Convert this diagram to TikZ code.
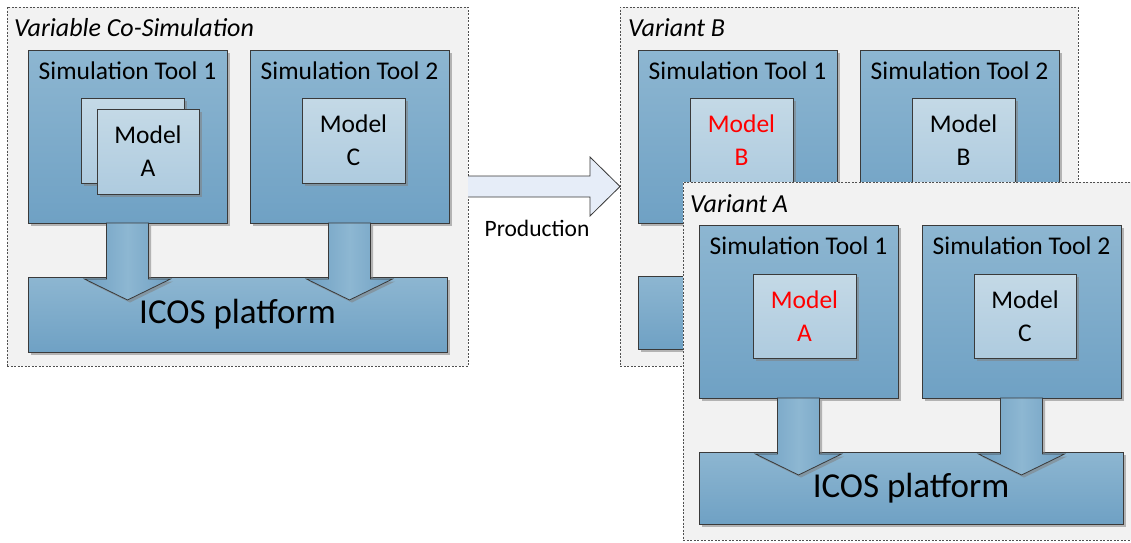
\documentclass[tikz,border=0pt]{standalone}
\usepackage{fontspec}
\setmainfont{Carlito}
\usetikzlibrary{calc,shadows}
\definecolor{bgbox}{HTML}{F2F2F2}
\definecolor{dashcol}{HTML}{505050}
\definecolor{edge}{HTML}{3A3A3A}
\definecolor{tooltop}{HTML}{8DB6D1}
\definecolor{toolbot}{HTML}{6FA1C4}
\definecolor{modtop}{HTML}{C4D9E6}
\definecolor{modbot}{HTML}{AECBDF}
\definecolor{arrside}{HTML}{6F9FC2}
\definecolor{arrmid}{HTML}{8DB7D2}
\definecolor{prodfill}{HTML}{E6EDF8}
\definecolor{redtxt}{HTML}{FF0000}
\tikzset{
  group/.style={draw=dashcol, dash pattern=on 2pt off 1.5pt, fill=bgbox, line width=0.8pt,
    anchor=north west, inner sep=0pt, outer sep=0pt},
  shad/.style={drop shadow={shadow xshift=2.5pt, shadow yshift=-2.5pt, fill=black!50, opacity=0.55}},
  toolbox/.style={draw=edge, line width=0.8pt, top color=tooltop, bottom color=toolbot, shad,
    anchor=north west, minimum width=199pt, minimum height=173pt, inner sep=0pt, outer sep=0pt},
  modelbox/.style={draw=edge, line width=0.8pt, top color=modtop, bottom color=modbot, shad,
    anchor=north west, minimum width=103pt, minimum height=85pt, inner sep=0pt, outer sep=0pt,
    align=center, font=\fontsize{25.5}{33}\selectfont},
  platbox/.style={draw=edge, line width=0.8pt, top color=tooltop, bottom color=toolbot, shad,
    anchor=north west, inner sep=0pt, outer sep=0pt, font=\fontsize{35}{40}\selectfont},
  tooltitle/.style={anchor=base, inner sep=0pt, font=\fontsize{25.5}{30}\selectfont},
  grouptitle/.style={anchor=base west, inner sep=0pt, font=\fontsize{26}{31}\selectfont\itshape},
  flowarrow/.style={draw=edge, line width=0.8pt, left color=arrside, right color=arrside,
    middle color=arrmid, shad, line join=miter},
}
\newcommand\toolarrow[2]{%
  \path[flowarrow] let \p1=(#1.south), \p2=(#2.north) in
    (\x1-21pt,\y1) -- (\x1-21pt,\y2-2pt) -- (\x1-43pt,\y2-2pt) -- (\x1,\y2-23pt)
    -- (\x1+43pt,\y2-2pt) -- (\x1+21pt,\y2-2pt) -- (\x1+21pt,\y1) -- cycle;}
\begin{document}
\begin{tikzpicture}[x=1pt,y=-1pt]
\useasboundingbox (0,0) rectangle (1131,542);
\clip (0,0) rectangle (1131,542);

% ---------- Variable Co-Simulation ----------
\node[group, minimum width=461pt, minimum height=359pt] (cs) at (7,7) {};
\node[grouptitle] (cstitle) at (14,36) {Variable Co-Simulation};
\node[toolbox] (ct1) at (28,50) {};
\node[toolbox] (ct2) at (250,50) {};
\node[tooltitle] (ct1l) at ($(ct1.north)+(0,29)$) {Simulation Tool 1};
\node[tooltitle] (ct2l) at ($(ct2.north)+(0,29)$) {Simulation Tool 2};
\node[modelbox] (cmaback) at (81,98) {};
\node[modelbox, minimum width=102pt] (cma) at (97,109) {Model\\A};
\node[modelbox] (cmc) at (302,98) {Model\\C};
\node[platbox, minimum width=419pt, minimum height=75pt] (cp) at (28,277) {ICOS platform};
\toolarrow{ct1}{cp}
\toolarrow{ct2}{cp}

% ---------- Production arrow ----------
\fill[prodfill] let \p1=(cs.east), \p2=(620,186) in
  (\x1,\y1-10.5pt) -- (\x2-30pt,\y1-10.5pt) -- (\x2-30pt,\y1-29.5pt) -- (\x2,\y1)
  -- (\x2-30pt,\y1+29.5pt) -- (\x2-30pt,\y1+10.5pt) -- (\x1,\y1+10.5pt) -- cycle;
\draw[edge, line width=0.8pt, line join=miter] let \p1=(cs.east), \p2=(620,186) in
  (\x1,\y1-10.5pt) -- (\x2-30pt,\y1-10.5pt) -- (\x2-30pt,\y1-29.5pt) -- (\x2,\y1)
  -- (\x2-30pt,\y1+29.5pt) -- (\x2-30pt,\y1+10.5pt) -- (\x1,\y1+10.5pt);
\node[anchor=base, inner sep=0pt, font=\fontsize{23.5}{28}\selectfont] (prod) at (537,236) {Production};

% ---------- Variant B ----------
\node[group, minimum width=458pt, minimum height=359pt] (vb) at (620,7) {};
\node[grouptitle] (vbtitle) at (628,36) {Variant B};
\node[toolbox] (bt1) at (638,50) {};
\node[toolbox] (bt2) at (860,50) {};
\node[tooltitle] (bt1l) at ($(bt1.north)+(0,29)$) {Simulation Tool 1};
\node[tooltitle] (bt2l) at ($(bt2.north)+(0,29)$) {Simulation Tool 2};
\node[modelbox, text=redtxt] (bmb1) at (690,98) {Model\\B};
\node[modelbox] (bmb2) at (912,98) {Model\\B};
\node[platbox, minimum width=419pt, minimum height=73pt] (bp) at (638,276) {ICOS platform};
\toolarrow{bt1}{bp}
\toolarrow{bt2}{bp}

% ---------- Variant A ----------
\node[group, minimum width=461pt, minimum height=358pt] (va) at (683,182) {};
\node[grouptitle] (vatitle) at (690,212) {Variant A};
\node[toolbox] (at1) at (699,225) {};
\node[toolbox] (at2) at (922,225) {};
\node[tooltitle] (at1l) at ($(at1.north)+(0,29)$) {Simulation Tool 1};
\node[tooltitle] (at2l) at ($(at2.north)+(0,29)$) {Simulation Tool 2};
\node[modelbox, minimum height=84pt, text=redtxt] (ama) at (753,274) {Model\\A};
\node[modelbox, minimum width=102pt, minimum height=84pt] (amc) at (974,274) {Model\\C};
\node[platbox, minimum width=424pt, minimum height=72pt] (ap) at (699,452) {ICOS platform};
\toolarrow{at1}{ap}
\toolarrow{at2}{ap}
\end{tikzpicture}
\end{document}
